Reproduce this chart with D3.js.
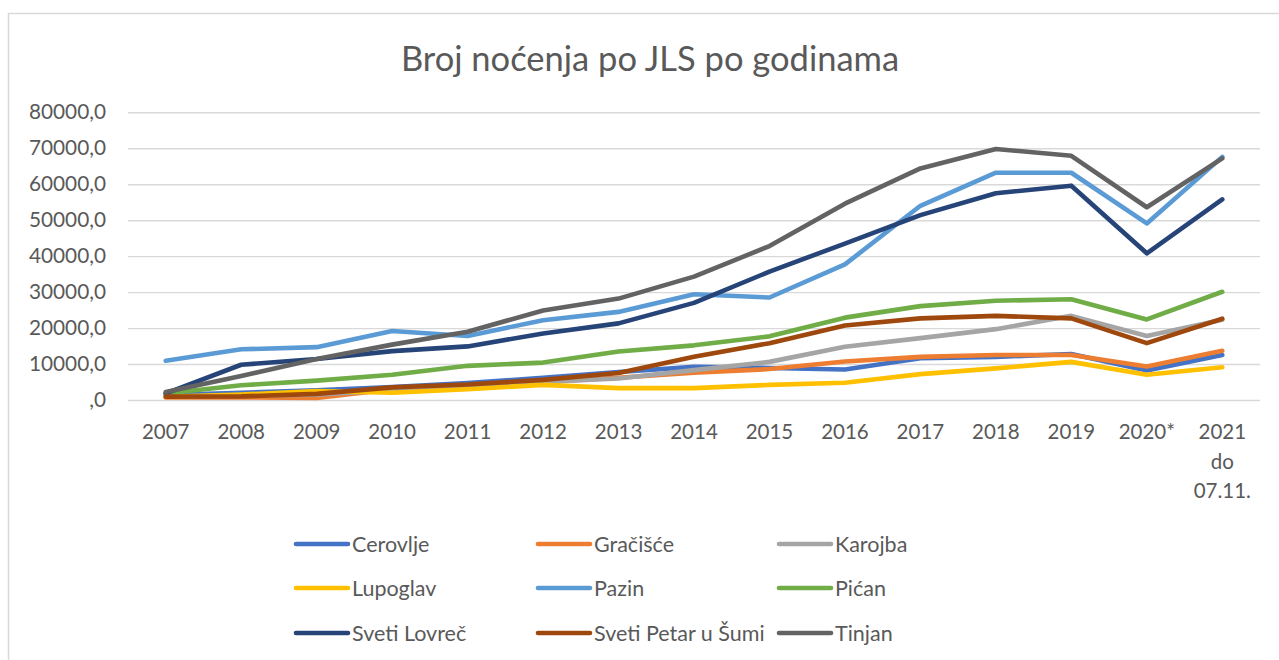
<!DOCTYPE html>
<html><head><meta charset="utf-8">
<script src="https://cdn.jsdelivr.net/npm/d3@7"></script>
<style>body{margin:0;background:#fff}svg{display:block}text{font-family:Lato,"Open Sans",sans-serif}</style>
</head><body><svg id="c" width="1279" height="660"></svg>
<script>
const title = "Broj noćenja po JLS po godinama";
const categories = ["2007","2008","2009","2010","2011","2012","2013","2014","2015","2016","2017","2018","2019","2020*","2021 do 07.11."];
const yTicks = [0,10000,20000,30000,40000,50000,60000,70000,80000];
const seriesNames = ["Cerovlje","Gračišće","Karojba","Lupoglav","Pazin","Pićan","Sveti Lovreč","Sveti Petar u Šumi","Tinjan"];
const seriesColors = ["#4472c4","#ed7d31","#a5a5a5","#ffc000","#5b9bd5","#70ad47","#264478","#9e480e","#636363"];
const cerovlje = [1400,2000,2700,3600,4700,6200,7800,9200,8900,8500,11600,12000,12800,8200,12500];
const gracisce = [700,700,600,3000,3700,5000,6200,7600,8600,10700,12000,12500,12500,9300,13700];
const karojba = [900,1200,1500,2800,3800,5000,6000,8300,10600,14800,17200,19700,23400,17800,22300];
const lupoglav = [900,1500,2500,2000,3000,4200,3300,3300,4200,4800,7200,8800,10600,7000,9100];
const pazin = [10900,14100,14700,19200,17800,22200,24500,29400,28500,37700,54000,63200,63200,49100,67600];
const pican = [1800,4100,5400,7000,9500,10400,13500,15200,17700,22900,26100,27600,28000,22400,30100];
const svetiLovrec = [1850,9800,11400,13600,14900,18500,21300,27000,35700,43500,51400,57500,59600,40800,55800];
const svetiPetar = [930,1000,1700,3500,4300,5600,7500,12000,15800,20700,22700,23400,22700,15800,22600];
const tinjan = [2200,6700,11400,15400,19000,24900,28200,34300,42800,54600,64400,69800,67900,53600,67200];
const seriesValues = [cerovlje,gracisce,karojba,lupoglav,pazin,pican,svetiLovrec,svetiPetar,tinjan];

const svg = d3.select("#c");
const textCol = "#595959", gridCol = "#d9d9d9";
// chart frame
svg.append("rect").attr("x",8.5).attr("y",13.5).attr("width",1300).attr("height",700)
  .attr("fill","none").attr("stroke",gridCol).attr("stroke-width",1.5);

svg.append("text").attr("x",650).attr("y",71).attr("text-anchor","middle")
  .attr("font-size",34.5).attr("fill",textCol).text(title);

const x = d3.scaleBand().domain(categories).range([128,1260]);
const y = d3.scaleLinear().domain([0,80000]).range([400,112.3]);
const fmt = v => v===0 ? ",0" : (v.toFixed(1)).replace(".",",");

// gridlines + y labels
const yAxis = d3.axisLeft(y).tickValues(yTicks).tickSize(-(1260-128)).tickFormat(fmt).tickPadding(22);
const ga = svg.append("g").attr("transform","translate(128,0)").call(yAxis);
ga.select(".domain").remove();
ga.selectAll("line").attr("stroke",gridCol).attr("stroke-width",1.4);
ga.selectAll("text").attr("font-size",20.8).attr("fill",textCol).attr("font-family","Lato");

// x labels
const xAxis = d3.axisBottom(x).tickSize(0).tickPadding(0);
const gx = svg.append("g").attr("transform","translate(0,400)").call(xAxis);
gx.select(".domain").remove();
gx.selectAll("text").each(function(d){
  const t = d3.select(this);
  t.text(null).attr("font-size",20.5).attr("fill",textCol).attr("font-family","Lato").attr("y",0).attr("dy",null);
  d.split(" ").forEach((w,i)=>{
    t.append("tspan").attr("x",0).attr("y",39+i*29.5).text(w);
  });
});

// lines
const line = d3.line().x((d,i)=>x(categories[i])+x.bandwidth()/2).y(d=>y(d));
seriesValues.forEach((vals,k)=>{
  svg.append("path").datum(vals).attr("d",line).attr("fill","none")
    .attr("stroke",seriesColors[k]).attr("stroke-width",4.6)
    .attr("stroke-linejoin","round").attr("stroke-linecap","round");
});

// legend
const colX = [296,538,779], rowY = [544,588,633];
seriesNames.forEach((n,k)=>{
  const cx = colX[k%3], cy = rowY[Math.floor(k/3)];
  svg.append("line").attr("x1",cx).attr("x2",cx+52).attr("y1",cy).attr("y2",cy)
    .attr("stroke",seriesColors[k]).attr("stroke-width",4.6).attr("stroke-linecap","round");
  svg.append("text").attr("x",cx+56).attr("y",cy+7.5).attr("font-size",21.5).attr("fill",textCol).text(n);
});
</script></body></html>
